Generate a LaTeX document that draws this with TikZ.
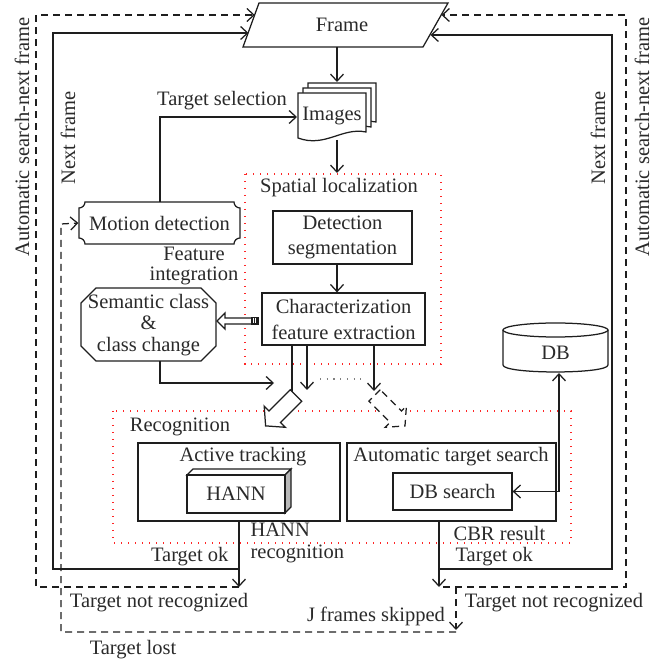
\documentclass[tikz,border=0pt]{standalone}
\usepackage{fontspec}
\setmainfont{Liberation Serif}
\usetikzlibrary{arrows.meta,calc}
\definecolor{ink}{HTML}{1E1E1E}
\definecolor{txt}{HTML}{2A2A2A}
\begin{document}
\begin{tikzpicture}[x=1pt,y=-1pt,line width=1.25pt,draw=ink,
  every node/.style={font=\fontsize{20.5}{25}\selectfont,text=txt,inner sep=0pt,align=center},
  ar/.style={-{Straight Barb[length=7pt,width=13pt]}},
  arr/.style={{Straight Barb[length=7pt,width=13pt]}-{Straight Barb[length=7pt,width=13pt]}},
  dsh/.style={dash pattern=on 7pt off 5pt},
  reddot/.style={draw=red!85,line width=1.3pt,dash pattern=on 1.3pt off 5.7pt},
]
\useasboundingbox (0,0) rectangle (665,663);

% ---------- Frame ----------
\coordinate (fTL) at (259,3);
\coordinate (fTR) at (448,3);
\coordinate (fBR) at (423,47);
\coordinate (fBL) at (243,47);
\draw[fill=white] (fTL)--(fTR)--(fBR)--(fBL)--cycle;
\node (frame) at (342,25) {Frame};
\coordinate (fL1) at (248.5,33);
\coordinate (fL2) at (254.8,15);
\coordinate (fR1) at (430.5,35);
\coordinate (fR2) at (441.5,15);
\coordinate (fbot) at (337,47);

% ---------- Images ----------
\foreach \d in {10,5,0}{
  \draw[fill=white] ({298+\d},{93-\d}) -- ({366+\d},{93-\d}) -- ({366+\d},{132-\d})
    .. controls ({342+\d},{127-\d}) and ({325+\d},{148-\d}) .. ({298+\d},{138-\d}) -- cycle;
}
\node (images) at (332,116) {Images};
\coordinate (imgtop) at (337,82);
\coordinate (imgbot) at (337,140);
\coordinate (imgleft) at (297,117);
\draw[ar] (fbot) -- (imgtop);

% ---------- Spatial localization ----------
\draw[reddot] (245,174) rectangle (441,364);
\node (spatlbl) at (339,188) {Spatial localization};
\coordinate (spattop) at (337,173);
\draw[ar] (imgbot) -- (spattop);

\node[draw,minimum width=139pt,minimum height=53pt] (det) at (342.5,237.5) {Detection\\segmentation};
\node[draw,minimum width=163pt,minimum height=52pt,font=\fontsize{20.5}{26}\selectfont] (char) at (343.5,319) {Characterization\\feature extraction};
\coordinate (cx) at (337,0);
\draw[ar] (det.south -| cx) -- (char.north -| cx);

% ---------- Motion detection ----------
\node[minimum width=161pt,minimum height=42pt] (mot) at (159.5,223) {Motion detection};
\draw (85,202) -- (234,202) .. controls (234,205.3) and (236.7,208) .. (240,208)
  -- (240,238) .. controls (236.7,238) and (234,240.7) .. (234,244)
  -- (85,244) .. controls (85,240.7) and (82.3,238) .. (79,238)
  -- (79,208) .. controls (82.3,208) and (85,205.3) .. (85,202) -- cycle;
\coordinate (mtop) at (160,202);
\coordinate (tsc) at (160,117);
\draw[ar] (mtop) -- (tsc) -- (imgleft);
\node (tsel) at (222,101) {Target selection};

\node[font=\fontsize{20.5}{19.5}\selectfont] (featint) at (194,266) {Feature\\integration};

% ---------- Semantic class ----------
\draw (96,288)--(201,288)--(216,303)--(216,346)--(201,361)--(96,361)--(81,346)--(81,303)--cycle;
\node[font=\fontsize{20.5}{21.5}\selectfont] (sem) at (148.5,325) {Semantic class\\\&\\class change};
\coordinate (semb) at (160,361);
\coordinate (semc) at (160,383);
\coordinate (semt) at (274,383);
\draw[ar] (semb) -- (semc) -- (semt);

% striped fat arrow from characterization to semantic class
\draw[fill=white] (217,321) -- (225,313) -- (225,318) -- (258,318) -- (258,324) -- (225,324) -- (225,329) -- cycle;
\fill[ink] (251,317) rectangle (258.6,325);
\draw[white,line width=0.7pt] (253.3,318.5) -- (253.3,323.5) (255.6,318.5) -- (255.6,323.5);

% ---------- Recognition ----------
\draw[reddot] (113,411) rectangle (571,543);
\node (reclbl) at (180,427) {Recognition};

\node[draw,minimum width=202pt,minimum height=78pt] (act) at (239,482) {};
\node (actlbl) at (243,457) {Active tracking};
\node[draw,minimum width=209pt,minimum height=78pt] (auto) at (451.5,482) {};
\node (autolbl) at (451,457) {Automatic target search};
\node[draw,minimum width=119pt,minimum height=37pt] (dbs) at (452.5,491.5) {DB search};

% HANN 3D box
\draw[fill=white] (187,475) -- (193,469) -- (291,469) -- (285,475) -- cycle;
\draw[fill=gray!55] (285,475) -- (291,469) -- (291,507) -- (285,513) -- cycle;
\node[draw,fill=white,minimum width=98pt,minimum height=38pt] (hann) at (236,494) {HANN};

% lines from characterization
\coordinate (c1) at (292,345);
\coordinate (c1e) at (292,392);
\coordinate (c2) at (307,345);
\coordinate (c2e) at (307,390);
\coordinate (c3) at (374,345);
\coordinate (c3e) at (374,391);
\draw (c1) -- (c1e);
\draw[ar] (c2) -- (c2e);
\draw[ar] (c3) -- (c3e);
\draw[gray,line width=1.2pt,dash pattern=on 1.2pt off 5.5pt] (320,379) -- (362,379);

% fat hollow arrows
\draw[fill=white] (290.3,389.8) -- (301.7,401.2) -- (280.5,422.4) -- (285.4,427.3) -- (265.6,425.9) -- (264.2,406.1) -- (269.1,411) -- cycle;
\draw[fill=white,dash pattern=on 7pt off 5pt] (380.3,389.8) -- (368.9,401.2) -- (390.1,422.4) -- (385.2,427.3) -- (405,425.9) -- (406.4,406.1) -- (401.5,411) -- cycle;

% ---------- DB ----------
\draw[fill=white] (503,330) -- (503,365) .. controls (503,374.3) and (608,374.3) .. (608,365) -- (608,330);
\draw[fill=white] (555.5,330) ellipse [x radius=52.5, y radius=7];
\node (db) at (555.5,353) {DB};
\coordinate (dbbot) at (559,373);
\coordinate (dbc) at (559,491.5);
\draw[arr] (dbs.east) -- (dbc) -- (dbbot);

% ---------- feedback loops ----------
\coordinate (aL) at (239,569);
\coordinate (aLd) at (239,587);
\coordinate (aR0) at (439,521);
\coordinate (aR) at (439,569);
\coordinate (aRd) at (439,587);
\coordinate (aRd2) at (443,587);
\coordinate (jtop) at (456,587);
\coordinate (jbot) at (456,630);
\coordinate (jc) at (456,632);

\draw[ar] (act.south) -- (aLd);
\draw[ar] (aR0) -- (aRd);
\draw[ar] (aL) -- (53,569) -- (53,33) -- (fL1);
\draw[ar,dsh] (aLd) -- (36,587) -- (36,15) -- (fL2);
\draw[ar] (aR) -- (612,569) -- (612,35) -- (fR1);
\draw[ar,dsh] (aRd2) -- (626,587) -- (626,15) -- (fR2);
\draw[ar,dsh] (jtop) -- (jbot);
\draw[ar,dsh] (jc) -- (61,632) -- (61,224) -- (mot.west);

% ---------- labels ----------
\node[rotate=90] (l1) at (22,137) {Automatic search-next frame};
\node[rotate=90] (l2) at (68,138) {Next frame};
\node[rotate=90] (r2) at (598,138) {Next frame};
\node[rotate=90] (r1) at (642,137) {Automatic search-next frame};

\node[align=left,anchor=west,font=\fontsize{20.5}{22}\selectfont] (hannrec) at (250,543) {HANN\\recognition};
\node[anchor=west] (cbr) at (453,533) {CBR result};
\node[anchor=west] (tok2) at (455,557) {Target ok};
\node[anchor=east] (tok1) at (229,557) {Target ok};
\node (tnr1) at (159,603) {Target not recognized};
\node (tnr2) at (554,603) {Target not recognized};
\node (jfs) at (376,616) {J frames skipped};
\node (tlost) at (133,650) {Target lost};
\end{tikzpicture}
\end{document}
